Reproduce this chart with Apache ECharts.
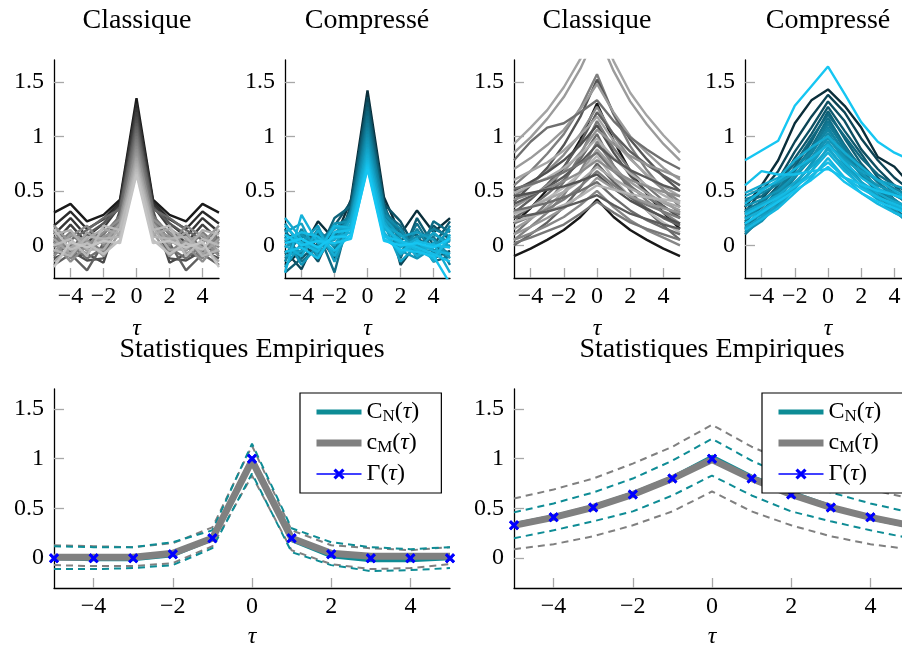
<!DOCTYPE html>
<html><head><meta charset="utf-8">
<script src="https://cdn.jsdelivr.net/npm/echarts@6/dist/echarts.min.js"></script>
<style>html,body{margin:0;padding:0;background:#fff}#c{width:902px;height:649px}</style>
</head><body><div id="c"></div>
<script>
// ---------- data ----------
const TAU = [-5,-4,-3,-2,-1,0,1,2,3,4,5];
const Y_TICKS = [0, 0.5, 1, 1.5];
const X_TICKS = [-4, -2, 0, 2, 4];
const TOP_TITLES = ['Classique', 'Compressé', 'Classique', 'Compressé'];
const BOTTOM_TITLE = 'Statistiques Empiriques';
const AXIS_NAME = 'τ';

// top-left: short memory, classical estimator (dark -> light)
const SHORT_CLASSIC = [
  [0.30,0.38,0.22,0.28,0.42,1.35,0.42,0.28,0.22,0.38,0.30],
  [0.18,0.31,0.15,0.24,0.40,1.30,0.40,0.24,0.15,0.31,0.20],
  [0.10,0.25,0.08,0.20,0.38,1.26,0.38,0.20,0.08,0.25,0.12],
  [0.02,0.19,0.02,0.16,0.36,1.22,0.36,0.16,0.02,0.19,0.05],
  [-0.05,-0.10,-0.08,-0.16,0.30,1.18,0.30,-0.16,-0.08,-0.10,-0.05],
  [-0.12,-0.05,-0.14,-0.12,0.32,1.15,0.32,-0.12,-0.14,-0.05,-0.12],
  [0.05,-0.02,0.10,0.20,0.35,1.12,0.35,0.20,0.10,-0.02,0.05],
  [-0.18,-0.08,-0.23,0.02,0.28,1.09,0.28,0.02,-0.23,-0.08,-0.18],
  [0.12,0.05,0.14,0.25,0.33,1.06,0.33,0.25,0.14,0.05,0.12],
  [-0.08,0.00,-0.12,-0.02,0.25,1.03,0.25,-0.02,-0.12,0.00,-0.08],
  [0.08,-0.05,-0.02,0.10,0.27,1.00,0.27,0.10,-0.02,-0.05,0.08],
  [-0.02,0.12,-0.05,0.05,0.22,0.97,0.22,0.05,-0.05,0.12,-0.02],
  [0.14,-0.12,0.05,-0.06,0.20,0.94,0.20,-0.06,0.05,-0.12,0.14],
  [-0.10,0.08,0.18,0.00,0.18,0.91,0.18,0.00,0.18,0.08,-0.10],
  [0.03,-0.15,0.00,0.12,0.24,0.88,0.24,0.12,0.00,-0.15,0.03],
  [0.18,0.02,-0.08,0.08,0.15,0.85,0.15,0.08,-0.08,0.02,0.18],
  [-0.06,0.10,0.04,-0.10,0.12,0.82,0.12,-0.10,0.04,0.10,-0.06],
  [0.06,-0.08,0.12,0.02,0.20,0.80,0.20,0.02,0.12,-0.08,0.06],
  [-0.15,-0.02,0.06,0.15,0.10,0.77,0.10,0.15,0.06,-0.02,-0.15],
  [0.10,0.14,-0.04,-0.04,0.16,0.75,0.16,-0.04,-0.04,0.14,0.10],
  [-0.04,-0.10,0.08,0.06,0.08,0.72,0.08,0.06,0.08,-0.10,-0.04],
  [0.00,0.06,-0.10,0.18,0.14,0.70,0.14,0.18,-0.10,0.06,0.00],
  [0.15,-0.04,0.02,-0.08,0.05,0.67,0.05,-0.08,0.02,-0.04,0.15],
  [-0.20,0.03,-0.02,0.04,0.02,0.65,0.02,0.04,-0.02,0.03,-0.20]
];

// top, 2nd: short memory, compressed estimator (dark teal -> cyan)
const SHORT_COMPRESSED = [
  [-0.18,-0.05,0.22,0.05,0.42,1.42,0.44,0.10,0.32,0.12,0.25],
  [-0.05,-0.22,0.10,-0.12,0.38,1.36,0.40,-0.18,0.02,-0.12,-0.05],
  [0.10,0.05,-0.15,0.18,0.40,1.31,0.38,0.22,-0.05,0.18,0.05],
  [-0.25,-0.12,0.02,-0.05,0.35,1.27,0.35,-0.12,0.25,0.00,0.22],
  [0.02,0.12,-0.08,0.25,0.36,1.23,0.36,0.05,0.10,-0.15,-0.10],
  [-0.12,0.00,0.12,-0.25,0.33,1.19,0.30,0.18,-0.12,0.22,0.12],
  [0.15,-0.15,-0.02,0.08,0.30,1.15,0.32,-0.08,0.20,-0.05,0.00],
  [-0.08,0.08,0.05,0.15,0.28,1.12,0.28,0.12,-0.02,0.08,-0.18],
  [0.05,-0.08,0.15,-0.02,0.32,1.08,0.34,0.02,0.05,0.15,0.08],
  [-0.15,0.15,-0.12,0.10,0.25,1.05,0.26,-0.10,0.15,-0.08,0.18],
  [0.20,-0.02,0.08,-0.08,0.29,1.02,0.28,0.15,-0.08,0.02,-0.08],
  [-0.02,0.10,-0.05,0.20,0.22,0.99,0.24,0.00,0.08,0.10,0.03],
  [0.08,-0.18,0.00,0.05,0.26,0.96,0.22,-0.05,-0.12,-0.02,0.15],
  [-0.20,0.02,0.18,-0.15,0.20,0.93,0.25,0.08,0.12,0.05,-0.12],
  [0.12,0.20,-0.10,0.12,0.18,0.90,0.20,-0.15,0.00,-0.10,0.05],
  [-0.10,-0.05,0.06,0.00,0.24,0.88,0.18,0.10,-0.06,0.12,-0.02],
  [0.25,0.06,-0.04,0.16,0.15,0.85,0.22,-0.02,0.06,-0.15,0.10],
  [0.00,-0.10,0.14,-0.10,0.20,0.83,0.15,0.05,-0.10,0.02,-0.25],
  [-0.25,0.28,0.02,0.06,0.12,0.80,0.12,-0.08,0.02,-0.05,-0.08],
  [0.18,0.02,-0.06,0.18,0.16,0.78,0.18,0.02,-0.04,-0.12,0.08],
  [0.05,0.12,0.08,-0.05,0.10,0.76,0.10,-0.06,0.04,0.00,-0.02],
  [-0.06,-0.02,-0.12,0.12,0.14,0.74,0.08,0.04,-0.02,-0.08,-0.15],
  [0.10,0.00,0.04,0.02,0.06,0.72,0.06,-0.04,-0.06,-0.10,-0.35],
  [0.02,0.06,-0.02,0.08,0.08,0.70,0.04,0.00,0.02,-0.02,0.06]
];

// top, 3rd: long memory, classical estimator
const LONG_CLASSIC = [
  [0.93,1.08,1.24,1.45,1.71,2.05,1.69,1.40,1.19,1.01,0.85],
  [0.85,0.99,1.16,1.36,1.62,1.95,1.60,1.32,1.11,0.93,0.78],
  [0.55,0.68,0.84,1.02,1.26,1.57,1.20,0.91,0.69,0.51,0.35],
  [0.40,0.55,0.71,0.92,1.18,1.52,1.21,0.97,0.79,0.63,0.50],
  [0.70,0.80,0.92,1.06,1.25,1.48,1.22,1.00,0.85,0.71,0.60],
  [0.78,0.95,1.08,1.12,1.22,1.33,1.14,0.99,0.88,0.78,0.70],
  [0.20,0.34,0.51,0.71,0.97,1.30,0.96,0.68,0.47,0.30,0.15],
  [0.45,0.56,0.68,0.83,1.02,1.27,1.01,0.80,0.64,0.51,0.40],
  [0.30,0.42,0.56,0.72,0.94,1.22,1.02,0.86,0.74,0.64,0.55],
  [0.60,0.68,0.76,0.87,1.01,1.18,0.96,0.79,0.65,0.54,0.45],
  [0.10,0.24,0.39,0.58,0.83,1.14,0.89,0.69,0.54,0.41,0.30],
  [0.50,0.58,0.67,0.78,0.92,1.10,0.85,0.64,0.49,0.36,0.25],
  [0.35,0.44,0.55,0.68,0.85,1.06,0.93,0.82,0.74,0.68,0.62],
  [0.25,0.35,0.47,0.60,0.79,1.02,0.73,0.50,0.32,0.18,0.05],
  [0.48,0.55,0.62,0.71,0.83,0.98,0.80,0.66,0.55,0.46,0.38],
  [0.05,0.17,0.30,0.46,0.68,0.95,0.73,0.55,0.41,0.30,0.20],
  [0.38,0.45,0.53,0.63,0.76,0.92,0.79,0.69,0.62,0.55,0.50],
  [0.15,0.24,0.35,0.49,0.66,0.88,0.71,0.58,0.48,0.39,0.32],
  [0.52,0.56,0.61,0.67,0.75,0.85,0.68,0.54,0.44,0.35,0.28],
  [0.28,0.35,0.43,0.53,0.66,0.82,0.61,0.44,0.32,0.21,0.12],
  [0.42,0.47,0.52,0.59,0.67,0.78,0.68,0.60,0.54,0.49,0.45],
  [0.00,0.10,0.21,0.35,0.53,0.75,0.58,0.44,0.34,0.25,0.18],
  [0.30,0.35,0.42,0.49,0.59,0.72,0.61,0.52,0.45,0.40,0.35],
  [0.20,0.26,0.33,0.42,0.54,0.68,0.55,0.45,0.37,0.31,0.25],
  [0.45,0.48,0.51,0.54,0.59,0.65,0.52,0.41,0.33,0.26,0.20],
  [0.10,0.17,0.25,0.34,0.46,0.62,0.52,0.45,0.39,0.34,0.30],
  [0.32,0.35,0.39,0.44,0.50,0.58,0.44,0.32,0.23,0.16,0.10],
  [0.22,0.26,0.31,0.37,0.45,0.55,0.51,0.47,0.44,0.42,0.40],
  [0.05,0.11,0.18,0.26,0.37,0.50,0.35,0.23,0.14,0.07,0.00],
  [0.25,0.28,0.31,0.35,0.40,0.46,0.37,0.29,0.24,0.19,0.15],
  [-0.10,-0.03,0.05,0.14,0.26,0.42,0.26,0.14,0.05,-0.03,-0.10],
  [0.02,0.07,0.13,0.19,0.29,0.40,0.30,0.21,0.15,0.10,0.05]
];

// top, 4th: long memory, compressed estimator (dark teal -> cyan)
const LONG_COMPRESSED = [
  [0.35,0.55,0.78,1.12,1.33,1.43,1.28,1.08,0.81,0.72,0.55],
  [0.30,0.50,0.68,0.95,1.18,1.38,1.22,0.98,0.78,0.62,0.50],
  [0.20,0.42,0.60,0.86,1.08,1.32,1.14,0.88,0.70,0.55,0.40],
  [0.28,0.38,0.55,0.80,1.02,1.27,1.05,0.84,0.62,0.48,0.35],
  [0.15,0.30,0.48,0.72,0.95,1.23,0.98,0.75,0.58,0.42,0.30],
  [0.40,0.45,0.58,0.75,0.98,1.20,1.00,0.80,0.65,0.55,0.48],
  [0.22,0.35,0.50,0.68,0.90,1.17,0.92,0.70,0.52,0.40,0.28],
  [0.10,0.25,0.42,0.62,0.85,1.14,0.88,0.65,0.48,0.35,0.20],
  [0.32,0.40,0.52,0.70,0.88,1.11,0.90,0.72,0.58,0.46,0.38],
  [0.18,0.32,0.45,0.64,0.84,1.08,0.85,0.64,0.50,0.38,0.25],
  [0.42,0.48,0.56,0.70,0.86,1.06,0.86,0.70,0.60,0.52,0.45],
  [0.25,0.36,0.48,0.62,0.80,1.03,0.82,0.66,0.52,0.42,0.32],
  [0.12,0.22,0.38,0.55,0.75,1.00,0.78,0.58,0.45,0.32,0.18],
  [0.36,0.42,0.50,0.64,0.80,0.98,0.80,0.66,0.55,0.48,0.40],
  [0.20,0.28,0.40,0.56,0.74,0.95,0.74,0.58,0.45,0.36,0.28],
  [0.45,0.52,0.58,0.66,0.78,0.93,0.78,0.68,0.60,0.55,0.50],
  [0.16,0.26,0.36,0.52,0.68,0.90,0.70,0.54,0.42,0.30,0.22],
  [0.30,0.38,0.46,0.58,0.72,0.88,0.72,0.58,0.48,0.40,0.35],
  [0.48,0.55,0.62,0.78,0.90,1.00,0.85,0.72,0.60,0.50,0.42],
  [0.24,0.32,0.42,0.54,0.68,0.85,0.68,0.55,0.44,0.36,0.30],
  [0.38,0.50,0.60,0.70,0.80,0.92,0.76,0.62,0.52,0.46,0.40],
  [0.14,0.24,0.34,0.48,0.62,0.80,0.62,0.48,0.38,0.30,0.24],
  [0.28,0.36,0.44,0.54,0.64,0.76,0.62,0.52,0.44,0.38,0.32],
  [0.55,0.68,0.65,0.65,0.68,0.70,0.62,0.56,0.50,0.46,0.42],
  [0.20,0.30,0.40,0.50,0.60,0.72,0.58,0.48,0.40,0.34,0.28],
  [0.78,0.87,0.96,1.28,1.46,1.64,1.39,1.13,0.95,0.85,0.78]
];

// bottom-left: empirical statistics, short memory
const SHORT_GAMMA   = [0,0,0,0.04,0.2,1,0.2,0.04,0,0,0];
const SHORT_CM      = [0.01,0.01,0.01,0.05,0.2,0.98,0.2,0.05,0.02,0.02,0.02];
const SHORT_CN      = [0,-0.01,-0.01,0.03,0.19,1.0,0.18,0.02,-0.02,-0.02,0];
const SHORT_CN_HI   = [0.12,0.11,0.11,0.16,0.28,1.15,0.30,0.16,0.11,0.09,0.11];
const SHORT_CN_LO   = [-0.11,-0.11,-0.10,-0.07,0.10,0.85,0.06,-0.07,-0.13,-0.12,-0.10];
const SHORT_CM_HI   = [0.13,0.12,0.11,0.15,0.31,1.13,0.28,0.13,0.10,0.08,0.11];
const SHORT_CM_LO   = [-0.07,-0.08,-0.08,-0.05,0.12,0.83,0.08,-0.06,-0.11,-0.10,-0.06];

// bottom-right: empirical statistics, long memory
const LONG_GAMMA    = [0.33,0.41,0.51,0.64,0.8,1,0.8,0.64,0.51,0.41,0.33];
const LONG_CM       = [0.33,0.41,0.51,0.64,0.8,0.99,0.8,0.64,0.51,0.41,0.33];
const LONG_CN       = [0.34,0.42,0.52,0.65,0.81,1.02,0.82,0.66,0.52,0.40,0.32];
const LONG_CN_HI    = [0.46,0.55,0.66,0.80,0.98,1.20,0.98,0.80,0.66,0.55,0.46];
const LONG_CN_LO    = [0.20,0.28,0.37,0.47,0.63,0.83,0.63,0.47,0.37,0.28,0.20];
const LONG_CM_HI    = [0.60,0.69,0.80,0.95,1.12,1.34,1.12,0.95,0.80,0.69,0.60];
const LONG_CM_LO    = [0.09,0.14,0.22,0.33,0.47,0.67,0.47,0.33,0.22,0.14,0.09];

// ---------- styling helpers ----------
const FONT = '"Liberation Serif", "Times New Roman", serif';
const TEAL = '#0e8c95', GRAY = '#808080', BLUE = '#0000ff';
function hex(c){c=c.replace('#','');return [0,2,4].map(i=>parseInt(c.substr(i,2),16));}
function mix(a,b,t){const A=hex(a),B=hex(b);return 'rgb('+A.map((v,i)=>Math.round(v+(B[i]-v)*t)).join(',')+')';}
const fmt = v => String(v).replace('-', '\u2212');

const grids = [
  {left:54,  top:60,  width:165, height:218},
  {left:285, top:60,  width:165, height:218},
  {left:514, top:60,  width:166, height:218},
  {left:745, top:60,  width:166, height:218},
  {left:54,  top:389, width:396, height:199},
  {left:514, top:389, width:396, height:199}
].map(g => Object.assign(g, {outerBoundsMode:'none', containLabel:false}));

const labelStyle = {fontFamily:FONT, fontSize:24, color:'#000'};
const tickLine = {color:'#a8a8a8', width:1.3};
const xAxes = grids.map((g,i)=>({
  type:'value', gridIndex:i, min:-5, max:5,
  name:AXIS_NAME, nameLocation:'middle', nameGap: i<4 ? 39 : 37,
  nameTextStyle:{fontFamily:FONT, fontStyle:'italic', fontSize:24, color:'#000'},
  axisLine:{onZero:false, lineStyle:{color:'#000', width:1.3}},
  axisTick:{inside:true, length:10, customValues:X_TICKS, lineStyle:tickLine},
  axisLabel:Object.assign({customValues:X_TICKS, margin:7, formatter:fmt}, labelStyle),
  splitLine:{show:false}
}));
const yAxes = grids.map((g,i)=>({
  type:'value', gridIndex:i, min:-0.3, max:1.7,
  axisLine:{show:true, onZero:false, lineStyle:{color:'#000', width:1.3}},
  axisTick:{show:true, inside:true, length:10, customValues:Y_TICKS, lineStyle:tickLine},
  axisLabel:Object.assign({customValues:Y_TICKS, margin:10, formatter:fmt}, labelStyle),
  splitLine:{show:false}
}));

const series = [];
function addBundle(arr, gi, colorAt){
  arr.forEach((vals,i)=>{
    series.push({type:'line', xAxisIndex:gi, yAxisIndex:gi, silent:true, symbol:'none',
      clip:true, data:TAU.map((t,k)=>[t, vals[k]]),
      lineStyle:{width:2.4, color:colorAt(i, arr.length)}});
  });
}
const grayRamp = (i,n)=>mix('#1a1a1a','#c4c4c4', Math.pow(i/(n-1), 0.75));
const tealRamp = (i,n)=>mix('#0a2e3a','#16c6f2', Math.pow(i/(n-1), 0.6));
const mixedGray = (i,n)=>{
  let t = 0.3 + 0.68*((i*0.618 + 0.25) % 1);
  if (i===0) t = 0.85; if (i===1) t = 0.8; if (i===6 || i===30) t = 0;
  return mix('#181818','#bcbcbc', t);
};
addBundle(SHORT_CLASSIC, 0, grayRamp);
addBundle(SHORT_COMPRESSED, 1, tealRamp);
addBundle(LONG_CLASSIC, 2, mixedGray);
addBundle(LONG_COMPRESSED, 3, tealRamp);

const XMARK = 'path://M2,0L5,3L8,0L10,2L7,5L10,8L8,10L5,7L2,10L0,8L3,5L0,2Z';
function addStats(gi, g, cm, cn, cnHi, cnLo, cmHi, cmLo){
  const pts = v => TAU.map((t,k)=>[t, v[k]]);
  const dash = (v,c)=>series.push({type:'line', xAxisIndex:gi, yAxisIndex:gi, silent:true, symbol:'none',
      data:pts(v), lineStyle:{width:2, color:c, type:[7,5]}});
  dash(cmHi, GRAY); dash(cmLo, GRAY); dash(cnHi, TEAL); dash(cnLo, TEAL);
  // Γ line (under the estimates); its crosses are drawn again on top below
  series.push({name:'G', type:'line', xAxisIndex:gi, yAxisIndex:gi, silent:true, symbol:XMARK, symbolSize:10,
      showAllSymbol:true, data:pts(g), lineStyle:{width:1.6, color:BLUE}, itemStyle:{color:BLUE}});
  series.push({name:'CN', type:'line', xAxisIndex:gi, yAxisIndex:gi, silent:true, symbol:'none',
      data:pts(cn), lineStyle:{width:4, color:TEAL}, itemStyle:{color:TEAL}});
  series.push({name:'cM', type:'line', xAxisIndex:gi, yAxisIndex:gi, silent:true, symbol:'none',
      data:pts(cm), lineStyle:{width:7, color:GRAY}, itemStyle:{color:GRAY}});
  series.push({type:'line', xAxisIndex:gi, yAxisIndex:gi, silent:true, symbol:XMARK, symbolSize:10,
      showAllSymbol:true, data:pts(g), lineStyle:{width:0, opacity:0}, itemStyle:{color:BLUE}});
}
addStats(4, SHORT_GAMMA, SHORT_CM, SHORT_CN, SHORT_CN_HI, SHORT_CN_LO, SHORT_CM_HI, SHORT_CM_LO);
addStats(5, LONG_GAMMA, LONG_CM, LONG_CN, LONG_CN_HI, LONG_CN_LO, LONG_CM_HI, LONG_CM_LO);

const rich = {
  r:{fontFamily:FONT, fontSize:24, color:'#000', lineHeight:26, verticalAlign:'middle'},
  s:{fontFamily:FONT, fontSize:17, color:'#000', lineHeight:17, verticalAlign:'bottom'},
  i:{fontFamily:FONT, fontSize:24, fontStyle:'italic', color:'#000', lineHeight:26, verticalAlign:'middle'}
};
const LEGEND_TEXT = {
  CN:'{r|C}{s|N}{r|(}{i|τ}{r|)}',
  cM:'{r|c}{s|M}{r|(}{i|τ}{r|)}',
  G:'{r|Γ(}{i|τ}{r|)}'
};
const hidden = {opacity:0, borderWidth:0};
const legendAt = left => ({
  left, top:393, orient:'vertical', itemWidth:45, itemHeight:14, itemGap:6,
  padding:[7,22,7,13], borderColor:'#000', borderWidth:1.2, borderRadius:0,
  backgroundColor:'#fff', selectedMode:false,
  data:[{name:'CN', lineStyle:{width:5}, itemStyle:hidden},
        {name:'cM', lineStyle:{width:7}, itemStyle:hidden},
        {name:'G', lineStyle:{width:1.6}}],
  formatter: n => LEGEND_TEXT[n],
  textStyle:{fontFamily:FONT, fontSize:24, color:'#000', rich}
});

const titleStyle = {fontFamily:FONT, fontSize:28, fontWeight:'normal', color:'#000'};
const titleCenters = [137, 367, 597, 828];
const titles = TOP_TITLES.map((t,i)=>({text:t, left:titleCenters[i], top:7, textAlign:'center', padding:0, textStyle:titleStyle}))
  .concat([252, 712].map(c=>({text:BOTTOM_TITLE, left:c, top:336, textAlign:'center', padding:0, textStyle:titleStyle})));

const chart = echarts.init(document.getElementById('c'), null, {renderer:'canvas'});
chart.setOption({
  animation:false,
  backgroundColor:'#fff',
  title:titles,
  grid:grids,
  xAxis:xAxes,
  yAxis:yAxes,
  legend:[legendAt(300), legendAt(762)],
  tooltip:{show:false},
  series
});
</script></body></html>
